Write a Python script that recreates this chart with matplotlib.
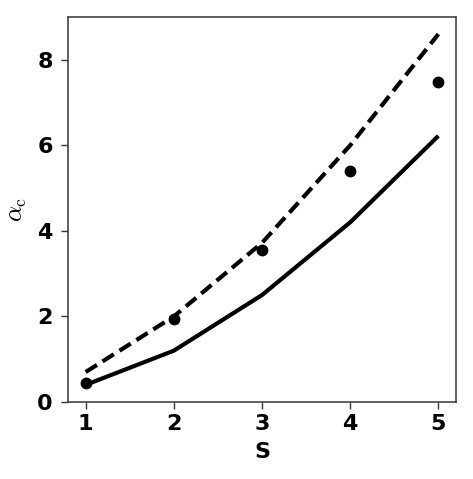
import matplotlib
matplotlib.use("Agg")
import matplotlib.pyplot as plt

S = [1, 2, 3, 4, 5]
solid_vals = [0.40, 1.20, 2.50, 4.20, 6.22]
dashed_vals = [0.70, 2.00, 3.72, 6.00, 8.60]
dot_vals = [0.45, 1.93, 3.55, 5.40, 7.47]
xticks = [1, 2, 3, 4, 5]
yticks = [0, 2, 4, 6, 8]

plt.rcParams['font.family'] = ['DejaVu Sans']
plt.rcParams['mathtext.fontset'] = 'cm'

fig = plt.figure(figsize=(4.73, 4.79), dpi=100)
ax = fig.add_axes([68/473, 1-402/479, (456-68)/473, (402-17)/479])

ax.plot(S, solid_vals, color='black', lw=3.0, solid_capstyle='butt')
ax.plot(S, dashed_vals, color='black', lw=3.0, ls=(0, (3.2, 1.6)))
ax.plot(S, dot_vals, 'o', color='black', ms=7.5)

ax.set_xlim(0.8, 5.2)
ax.set_ylim(0, 9)
ax.set_xticks(xticks)
ax.set_yticks(yticks)
ax.set_xticklabels([str(v) for v in xticks], fontsize=16, fontweight='bold')
ax.set_yticklabels([str(v) for v in yticks], fontsize=16, fontweight='bold')
ax.tick_params(direction='out', length=5, width=1, color='#333333')
ax.tick_params(axis='y', pad=6)
for sp in ax.spines.values():
    sp.set_color('#444444')
    sp.set_linewidth(1.2)
ax.set_xlabel('S', fontsize=16, fontweight='bold', labelpad=6)
ax.set_ylabel(r'$\alpha_\mathrm{c}$', fontsize=18, labelpad=6)

fig.savefig('out.png', dpi=100)
